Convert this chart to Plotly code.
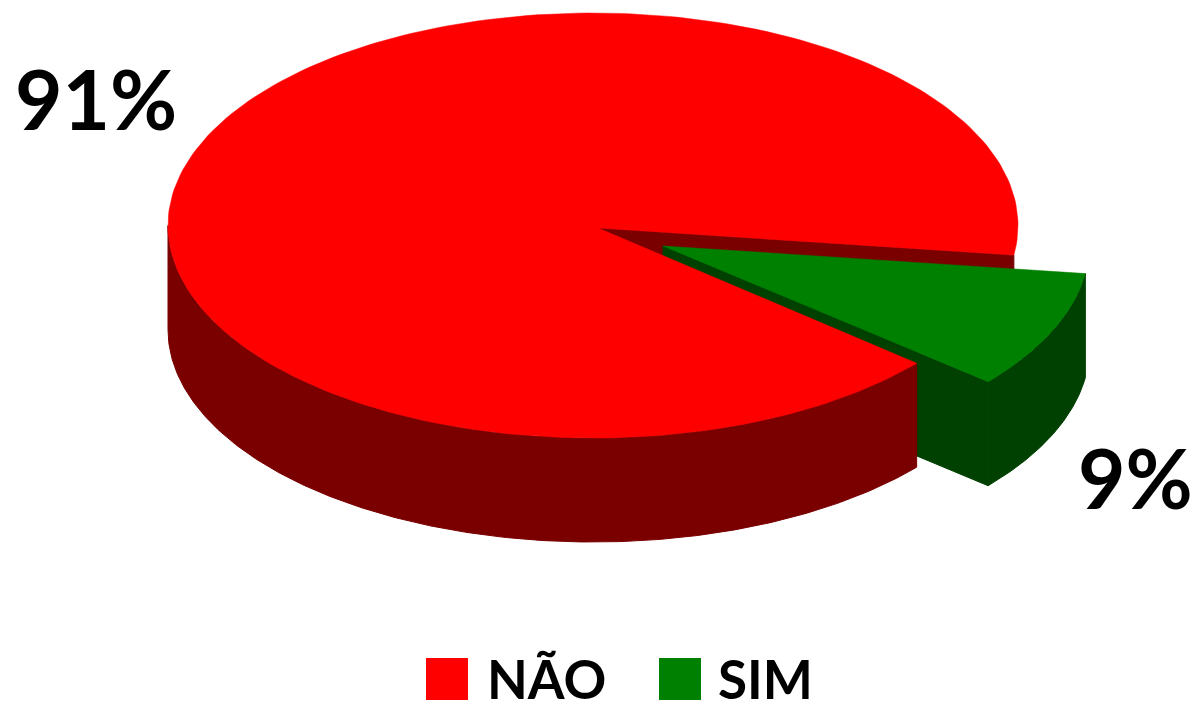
import numpy as np
import plotly.graph_objects as go

categories = ["NÃO", "SIM"]
values = [91, 9]
value_labels = ["91%", "9%"]

RED, RED_DARK = "#FF0000", "#7A0000"
GREEN, GREEN_DARK = "#008000", "#004000"
FONT = "Lato"

# Projection of the tilted disc, in canvas units
CX, CY, RX, RY, DEPTH = 593, 225.5, 425, 212.5, 104
START_DEG = 8.0
RED_APEX = (5, 2.5)          # apex relative to the disc centre
GREEN_SHIFT = (71.5, 18.5)   # exploded slice displacement
GREEN_APEX = (-1.5, 2)


def arc(t0, t1, dx=0.0, dy=0.0, n=240):
    t = np.radians(np.linspace(t0, t1, n))
    return CX + dx + RX * np.cos(t), CY + dy + RY * np.sin(t)


green_sweep = values[1] / sum(values) * 360
g0, g1 = START_DEG, START_DEG + green_sweep
r0, r1 = g1, START_DEG + 360

fig = go.Figure()


def poly(x, y, color, name, width=0.5):
    fig.add_trace(go.Scatter(
        x=np.append(x, x[0]), y=np.append(y, y[0]), mode="lines", fill="toself",
        fillcolor=color, line=dict(color=color, width=width),
        hoverinfo="skip", showlegend=False, name=name))


def wall(x, y, color, name):
    poly(np.concatenate([x, x[::-1]]), np.concatenate([y, y[::-1] + DEPTH]), color, name, 1)


rax, ray = CX + RED_APEX[0], CY + RED_APEX[1]
gsx, gsy = GREEN_SHIFT
gax, gay = CX + gsx + GREEN_APEX[0], CY + gsy + GREEN_APEX[1]

# Red cut wall behind the exploded slice
ex, ey = arc(g0, g0, n=1)
wall(np.array([rax, ex[0]]), np.array([ray, ey[0]]), RED_DARK, "red back wall")

# Green cut wall
ex, ey = arc(g1, g1, gsx, gsy, n=1)
wall(np.array([gax, ex[0]]), np.array([gay, ey[0]]), GREEN_DARK, "green cut wall")

# Red outer wall (front half of the rim only)
x, y = arc(r0, 180)
wall(x, y, RED_DARK, "red rim")

# Red top
x, y = arc(r0, r1)
poly(np.concatenate([[rax], x]), np.concatenate([[ray], y]), RED, categories[0])

# Green outer wall
x, y = arc(g0, g1, gsx, gsy)
wall(x, y, GREEN_DARK, "green rim")

# Green top
poly(np.concatenate([[gax], x]), np.concatenate([[gay], y]), GREEN, categories[1])

# Legend swatches
fig.add_trace(go.Scatter(
    x=[447, 680], y=[679, 679], mode="markers",
    marker=dict(symbol="square", size=42, color=[RED, GREEN], line=dict(width=0)),
    hoverinfo="skip", showlegend=False, name="legend"))

notes = [
    (value_labels[0], 96, 98, 82, "center"),
    (value_labels[1], 1135, 477, 82, "center"),
    (categories[0], 485, 678, 53, "left"),
    (categories[1], 716, 678, 53, "left"),
]
for text, xp, yp, size, anchor in notes:
    fig.add_annotation(x=xp, y=yp, text=f"<b>{text}</b>", showarrow=False,
                       xanchor=anchor, yanchor="middle",
                       font=dict(family=FONT, size=size, color="#000000"))

fig.update_layout(
    width=1197, height=705, margin=dict(l=0, r=0, t=0, b=0),
    paper_bgcolor="white", plot_bgcolor="white", showlegend=False,
    xaxis=dict(range=[0, 1197], visible=False, fixedrange=True),
    yaxis=dict(range=[705, 0], visible=False, fixedrange=True),
)
fig.write_html("out.html", config=dict(displayModeBar=False),
               post_script="document.body.style.margin='0';document.documentElement.style.overflow='hidden';")
